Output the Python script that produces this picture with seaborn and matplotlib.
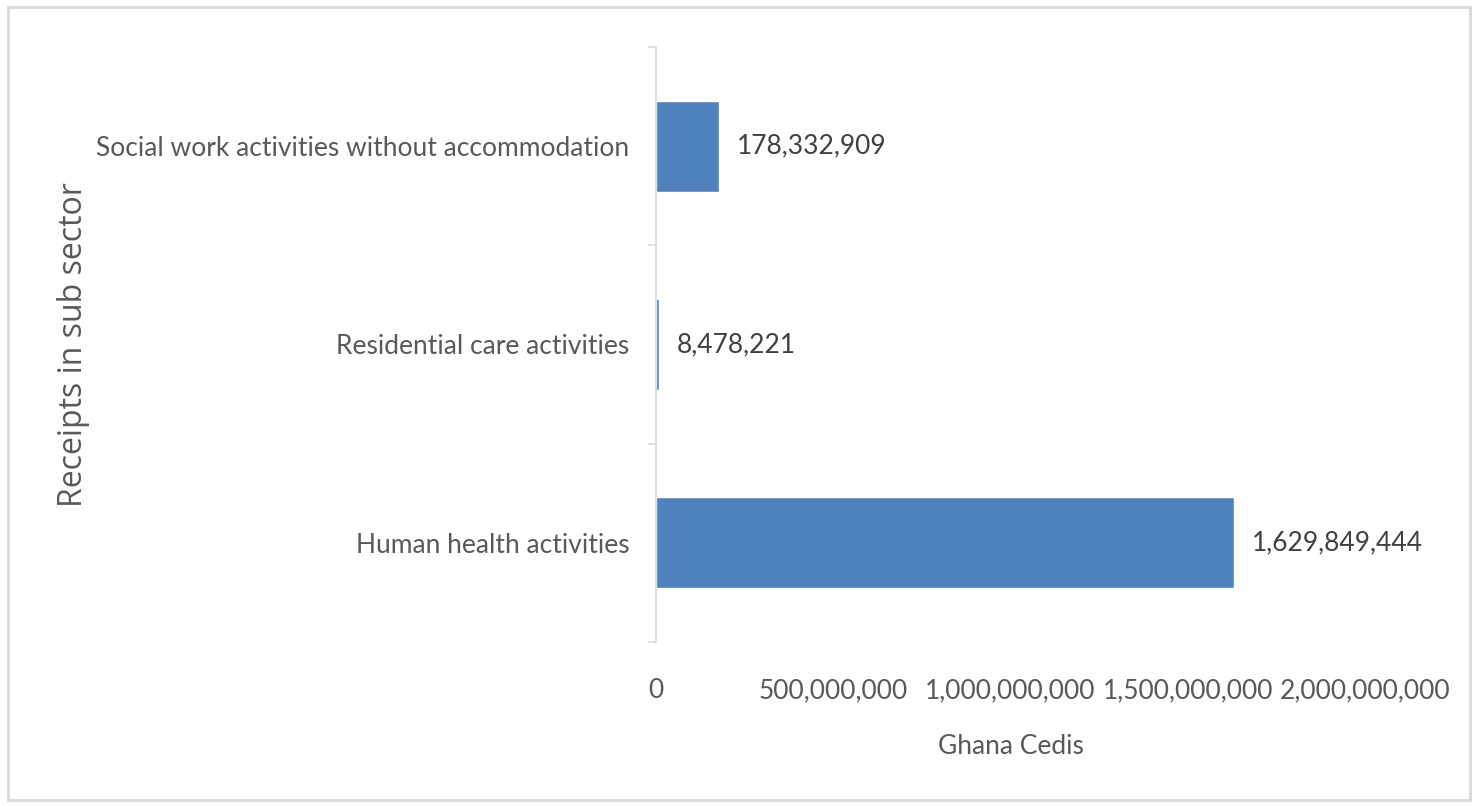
import matplotlib
matplotlib.use("Agg")
import matplotlib.pyplot as plt
import seaborn as sns
import pandas as pd
from matplotlib.ticker import FuncFormatter, FixedLocator
from matplotlib.patches import Rectangle

categories = ["Social work activities without accommodation",
              "Residential care activities",
              "Human health activities"]
values = [178332909, 8478221, 1629849444]
x_ticks = [0, 500000000, 1000000000, 1500000000, 2000000000]

df = pd.DataFrame({"category": categories, "value": values})

sns.set_theme(style="white")
plt.rcParams["font.family"] = ["Lato", "DejaVu Sans"]

fig = plt.figure(figsize=(14.76, 8.07), dpi=100)
ax = fig.add_axes([0.4444, 0.2045, 0.4804, 0.7373])

sns.barplot(data=df, x="value", y="category", order=categories,
            color="#4F81BD", saturation=1, width=0.46, ax=ax, orient="h")

ax.set_xlim(0, 2000000000)
ax.set_ylim(2.5, -0.5)
ax.xaxis.set_major_locator(FixedLocator(x_ticks))
ax.xaxis.set_major_formatter(FuncFormatter(lambda v, p: f"{int(v):,}"))

for s in ["top", "right", "bottom"]:
    ax.spines[s].set_visible(False)
ax.spines["left"].set_color("#D9D9D9")
ax.spines["left"].set_linewidth(1.2)
ax.spines["left"].set_zorder(5)

ax.tick_params(axis="x", length=0, pad=26, labelsize=19, labelcolor="#595959")
ax.tick_params(axis="y", which="major", length=0, pad=19, labelsize=19, labelcolor="#595959")
ax.set_yticks([-0.5, 0.5, 1.5, 2.5], minor=True)
ax.tick_params(axis="y", which="minor", length=6, width=1.2, color="#D9D9D9", left=True)

ax.bar_label(ax.containers[0], labels=[f"{v:,}" for v in values],
             padding=13, fontsize=19, color="#404040")

ax.set_xlabel("Ghana Cedis", fontsize=19, color="#595959", labelpad=22)
ax.set_ylabel("Receipts in sub sector", fontsize=23, color="#595959",
              fontfamily="Open Sans")
ax.yaxis.set_label_coords((90 - 656) / 709, 0.5)

fig.patches.append(Rectangle((8 / 1476, 7 / 807), 1462 / 1476, 793 / 807,
                             transform=fig.transFigure, fill=False,
                             edgecolor="#D9D9D9", linewidth=2))

fig.savefig("out.png", dpi=100)
